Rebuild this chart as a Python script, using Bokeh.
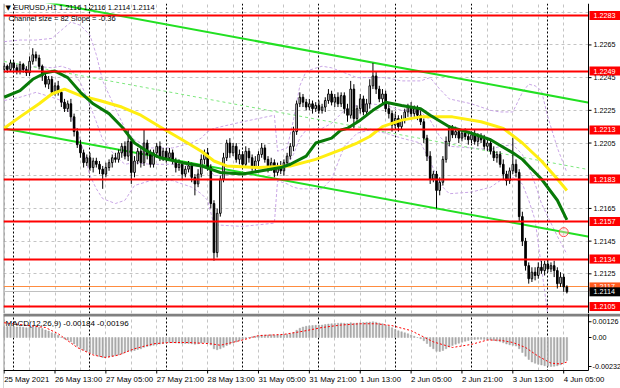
from bokeh.plotting import figure
from bokeh.layouts import column
from bokeh.models import ColumnDataSource, FixedTicker, Range1d, Grid
from bokeh.embed import file_html
from bokeh.resources import INLINE
from bokeh.core.properties import value

# ---------------- data ----------------
symbol_text = "EURUSD,H1  1.2116 1.2116 1.2114 1.2114"
channel_text = "Channel size = 82 Slope = -0.36"
macd_text = "MACD(12,26,9) -0.00184 -0.00196"

first_open = 1.2250
closes = [
    1.2252, 1.2250, 1.2254, 1.2251, 1.2249, 1.2253, 1.2250, 1.2248, 1.2255, 1.2259,
    1.2257, 1.2252, 1.2246, 1.2241, 1.2244, 1.2236, 1.2240, 1.2236, 1.2230, 1.2226,
    1.2229, 1.2221, 1.2212, 1.2204, 1.2199, 1.2193, 1.2196, 1.2190, 1.2194, 1.2192,
    1.2189, 1.2186, 1.2190, 1.2193, 1.2196, 1.2195, 1.2199, 1.2203, 1.2197, 1.2206,
    1.2187, 1.2194, 1.2200, 1.2193, 1.2205, 1.2198, 1.2192, 1.2199, 1.2203, 1.2196,
    1.2200, 1.2196, 1.2199, 1.2194, 1.2190, 1.2192, 1.2186, 1.2189, 1.2191, 1.2184,
    1.2180, 1.2186, 1.2195, 1.2199, 1.2190, 1.2168, 1.2138, 1.2162, 1.2183, 1.2196,
    1.2205, 1.2199, 1.2203, 1.2195, 1.2198, 1.2192, 1.2200, 1.2196, 1.2190, 1.2194,
    1.2198, 1.2202, 1.2195, 1.2190, 1.2193, 1.2187, 1.2191, 1.2188, 1.2193, 1.2197,
    1.2203, 1.2212, 1.2229, 1.2233, 1.2230, 1.2227, 1.2229, 1.2226, 1.2228, 1.2225,
    1.2227, 1.2231, 1.2235, 1.2230, 1.2233, 1.2229, 1.2234, 1.2226, 1.2222, 1.2238,
    1.2220, 1.2226, 1.2232, 1.2224, 1.2229, 1.2240, 1.2246, 1.2238, 1.2232, 1.2235,
    1.2226, 1.2223, 1.2216, 1.2220, 1.2215, 1.2219, 1.2224, 1.2227, 1.2223, 1.2226,
    1.2222, 1.2218, 1.2208, 1.2197, 1.2183, 1.2186, 1.2176, 1.2181, 1.2195, 1.2206,
    1.2214, 1.2210, 1.2212, 1.2208, 1.2211, 1.2209, 1.2207, 1.2210, 1.2206, 1.2209,
    1.2207, 1.2203, 1.2205, 1.2200, 1.2196, 1.2198, 1.2192, 1.2186, 1.2182, 1.2188,
    1.2192, 1.2187, 1.2160, 1.2145, 1.2130, 1.2122, 1.2126, 1.2124, 1.2129, 1.2127,
    1.2131, 1.2128, 1.2130, 1.2127, 1.2119, 1.2123, 1.2117, 1.2114,
]
upper_wick_pips = [
    2, 1, 2, 1, 2, 2, 1, 2, 3, 4,
    2, 2, 1, 3, 2, 2, 2, 3, 2, 2,
    2, 3, 2, 2, 3, 2, 2, 3, 2, 2,
    2, 2, 3, 2, 2, 3, 2, 2, 3, 7,
    2, 3, 2, 2, 8, 2, 3, 2, 2, 3,
    2, 2, 3, 2, 2, 3, 2, 2, 3, 2,
    2, 3, 3, 2, 3, 2, 2, 3, 2, 3,
    2, 3, 2, 2, 3, 2, 3, 2, 2, 3,
    2, 3, 2, 2, 3, 2, 2, 3, 2, 2,
    2, 3, 2, 3, 2, 2, 3, 2, 2, 3,
    2, 2, 3, 2, 2, 3, 2, 2, 3, 5,
    3, 2, 3, 2, 3, 4, 8, 3, 2, 3,
    2, 3, 2, 3, 2, 3, 2, 2, 3, 2,
    2, 3, 2, 2, 3, 2, 2, 3, 2, 3,
    2, 2, 3, 2, 2, 3, 2, 2, 3, 2,
    2, 3, 2, 2, 3, 2, 2, 3, 2, 2,
    16, 3, 2, 3, 2, 2, 3, 3, 3, 4,
    2, 3, 2, 3, 2, 3, 2, 1,
]
lower_wick_pips = [
    2, 2, 1, 2, 2, 2, 2, 2, 2, 2,
    2, 2, 3, 2, 3, 2, 2, 2, 3, 2,
    2, 3, 3, 2, 3, 3, 2, 2, 3, 2,
    3, 9, 2, 2, 3, 2, 2, 3, 2, 3,
    7, 3, 2, 3, 2, 3, 2, 2, 3, 2,
    2, 3, 2, 2, 3, 2, 3, 2, 2, 3,
    7, 2, 2, 3, 2, 3, 5, 3, 2, 2,
    2, 3, 2, 2, 3, 2, 2, 3, 2, 2,
    3, 2, 2, 3, 2, 3, 2, 2, 3, 2,
    2, 3, 2, 2, 3, 2, 2, 3, 2, 2,
    2, 3, 2, 2, 3, 2, 2, 3, 4, 2,
    6, 2, 3, 2, 2, 3, 2, 3, 2, 3,
    2, 3, 4, 2, 3, 2, 2, 3, 2, 2,
    3, 2, 3, 3, 3, 2, 11, 3, 2, 2,
    3, 2, 2, 3, 2, 2, 3, 2, 2, 3,
    2, 2, 3, 2, 2, 3, 2, 3, 3, 2,
    2, 3, 3, 3, 3, 3, 2, 3, 2, 2,
    3, 2, 2, 4, 3, 2, 3, 1,
]

ma_green_idx = [0, 5, 9, 13, 16, 20, 24, 28, 33, 37, 41, 45, 49, 56, 62, 68, 75, 81, 87, 90,
                95, 98, 103, 106, 108, 112, 116, 120, 125, 131, 134, 140, 147, 153, 160, 163,
                166, 169, 174, 177]
ma_green = [1.2233, 1.2237, 1.2244, 1.2248, 1.2249, 1.2245, 1.2236, 1.2229, 1.2223, 1.2215,
            1.2205, 1.2200, 1.2196, 1.2193, 1.2191, 1.2187, 1.2186, 1.2188, 1.2190, 1.2192,
            1.2197, 1.2205, 1.2208, 1.2213, 1.2214, 1.2219, 1.2225, 1.2230, 1.2228, 1.2226,
            1.2222, 1.2215, 1.2211, 1.2207, 1.2199, 1.2195, 1.2189, 1.2183, 1.2170, 1.2158]
ma_yellow_idx = [0, 5, 11, 15, 19, 24, 30, 37, 43, 49, 56, 62, 66, 70, 80, 90, 98, 106, 111, 115,
                 119, 125, 131, 141, 150, 157, 163, 169, 174, 177]
ma_yellow = [1.2214, 1.2221, 1.2229, 1.2235, 1.2238, 1.2234, 1.2231, 1.2227, 1.2222, 1.2215,
             1.2207, 1.2200, 1.2194, 1.2191, 1.2190, 1.2191, 1.2195, 1.2201, 1.2205, 1.2209,
             1.2215, 1.2219, 1.2221, 1.2221, 1.2218, 1.2214, 1.2205, 1.2194, 1.2183, 1.2176]

bb_idx = [0, 5, 10, 15, 18, 21, 24, 27, 29, 31, 35, 38, 41, 46, 53, 59, 62, 64, 66, 75,
          85, 86, 89, 91, 93, 95, 100, 103, 107, 111, 115, 120, 125, 131, 134, 137, 140, 147,
          153, 156, 160, 163, 165, 167, 169, 171, 174, 177]
bb_upper = [1.2267, 1.2268, 1.2268, 1.2269, 1.2274, 1.2279, 1.2277, 1.2271, 1.2259, 1.2243,
            1.2226, 1.2214, 1.2207, 1.2202, 1.2202, 1.2205, 1.2208, 1.2212, 1.2214, 1.2218,
            1.2222, 1.2200, 1.2202, 1.2219, 1.2240, 1.2249, 1.2252, 1.2251, 1.2248, 1.2245,
            1.2245, 1.2245, 1.2243, 1.2243, 1.2245, 1.2238, 1.2232, 1.2229, 1.2225, 1.2224,
            1.2224, 1.2236, 1.2241, 1.2240, 1.2237, 1.2221, 1.2202, 1.2187]
bb_mid = [1.2249, 1.2250, 1.2252, 1.2251, 1.2252, 1.2250, 1.2242, 1.2228, 1.2218, 1.2207,
          1.2197, 1.2192, 1.2193, 1.2192, 1.2192, 1.2191, 1.2191, 1.2191, 1.2185, 1.2186,
          1.2189, 1.2191, 1.2191, 1.2198, 1.2208, 1.2213, 1.2214, 1.2217, 1.2225, 1.2228,
          1.2229, 1.2228, 1.2225, 1.2224, 1.2219, 1.2209, 1.2203, 1.2202, 1.2201, 1.2203,
          1.2204, 1.2198, 1.2190, 1.2180, 1.2168, 1.2160, 1.2148, 1.2137]
bb_lower = [1.2231, 1.2233, 1.2236, 1.2233, 1.2231, 1.2222, 1.2207, 1.2185, 1.2177, 1.2171,
            1.2168, 1.2170, 1.2179, 1.2182, 1.2182, 1.2178, 1.2174, 1.2170, 1.2155, 1.2154,
            1.2156, 1.2182, 1.2180, 1.2178, 1.2177, 1.2177, 1.2177, 1.2183, 1.2203, 1.2211,
            1.2213, 1.2211, 1.2208, 1.2205, 1.2194, 1.2180, 1.2174, 1.2175, 1.2178, 1.2182,
            1.2184, 1.2180, 1.2170, 1.2158, 1.2129, 1.2100, 1.2080, 1.2075]

chan_idx = [0, 184]
chan_lower = [1.22139, 1.21477]
chan_mid = [1.22549, 1.21887]
chan_upper = [1.22959, 1.22297]
marker_idx = [176]
marker_price = [1.21505]

levels = [1.2283, 1.2249, 1.2213, 1.2183, 1.2157, 1.2134, 1.2105]
ask_level = 1.2117
bid_level = 1.2114
price_tick_values = [1.2125, 1.2145, 1.2165, 1.2205, 1.2225, 1.2245, 1.2265]
price_grid_values = [1.2105, 1.2125, 1.2145, 1.2165, 1.2185, 1.2205, 1.2225, 1.2245, 1.2265, 1.2285]

time_tick_idx = [0, 16, 32, 48, 64, 80, 96, 112, 128, 144, 160, 176]
time_tick_labels = ["25 May 2021", "26 May 13:00", "27 May 05:00", "27 May 21:00",
                    "28 May 13:00", "31 May 05:00", "31 May 21:00", "1 Jun 13:00",
                    "2 Jun 05:00", "2 Jun 21:00", "3 Jun 13:00", "4 Jun 05:00"]
day_start_idx = [3, 27, 51, 75, 99, 123, 147, 171]
grid_idx = [0, 8, 16, 24, 32, 40, 48, 56, 64, 72, 80, 88, 96, 104, 112, 120, 128, 136,
            144, 152, 160, 168, 176, 184]

macd = [
    0.00085, 0.00088, 0.00090, 0.00088, 0.00084, 0.00085, 0.00082, 0.00078, 0.00080, 0.00086,
    0.00088, 0.00082, 0.00072, 0.00060, 0.00052, 0.00038, 0.00030, 0.00018, 0.00002, -0.00012,
    -0.00020, -0.00034, -0.00052, -0.00070, -0.00088, -0.00102, -0.00112, -0.00124, -0.00132, -0.00142,
    -0.00152, -0.00160, -0.00158, -0.00155, -0.00150, -0.00146, -0.00140, -0.00132, -0.00120, -0.00108,
    -0.00110, -0.00104, -0.00096, -0.00090, -0.00078, -0.00072, -0.00068, -0.00062, -0.00056, -0.00052,
    -0.00048, -0.00044, -0.00042, -0.00042, -0.00044, -0.00045, -0.00047, -0.00048, -0.00047, -0.00050,
    -0.00054, -0.00050, -0.00044, -0.00040, -0.00044, -0.00060, -0.00090, -0.00098, -0.00090, -0.00078,
    -0.00064, -0.00054, -0.00044, -0.00036, -0.00026, -0.00016, -0.00008, 0.00000, 0.00006, 0.00010,
    0.00014, 0.00018, 0.00020, 0.00020, 0.00022, 0.00020, 0.00020, 0.00022, 0.00024, 0.00026,
    0.00030, 0.00040, 0.00058, 0.00074, 0.00084, 0.00090, 0.00094, 0.00096, 0.00098, 0.00098,
    0.00100, 0.00104, 0.00108, 0.00110, 0.00112, 0.00114, 0.00116, 0.00114, 0.00112, 0.00118,
    0.00114, 0.00116, 0.00118, 0.00120, 0.00122, 0.00124, 0.00126, 0.00122, 0.00116, 0.00110,
    0.00100, 0.00090, 0.00078, 0.00064, 0.00054, 0.00046, 0.00038, 0.00030, 0.00020, 0.00010,
    0.00000, -0.00010, -0.00026, -0.00048, -0.00072, -0.00090, -0.00110, -0.00112, -0.00104, -0.00090,
    -0.00076, -0.00064, -0.00054, -0.00046, -0.00038, -0.00030, -0.00024, -0.00018, -0.00016, -0.00014,
    -0.00014, -0.00016, -0.00018, -0.00020, -0.00024, -0.00028, -0.00034, -0.00042, -0.00052, -0.00058,
    -0.00062, -0.00068, -0.00090, -0.00120, -0.00150, -0.00176, -0.00196, -0.00206, -0.00214, -0.00220,
    -0.00226, -0.00230, -0.00232, -0.00230, -0.00226, -0.00218, -0.00200, -0.00184,
]
signal_idx = [0, 13, 17, 23, 28, 32, 36, 41, 47, 52, 58, 65, 68, 75, 80, 88, 94, 100, 106, 112,
              117, 122, 128, 135, 141, 147, 152, 156, 160, 164, 168, 172, 175, 177]
signal = [0.00118, 0.00080, 0.00030, -0.00080, -0.00140, -0.00160, -0.00140, -0.00090, -0.00050,
          -0.00040, -0.00040, -0.00050, -0.00062, -0.00020, 0.00015, 0.00025, 0.00050, 0.00080,
          0.00100, 0.00110, 0.00110, 0.00095, 0.00055, -0.00035, -0.00080, -0.00055, -0.00020,
          -0.00022, -0.00040, -0.00080, -0.00150, -0.00205, -0.00212, -0.00196]
macd_axis_values = [0.00126, 0.0, -0.00232]
macd_axis_labels = ["0.00126", "0.00", "-0.00232"]

# ---------------- derived candle geometry ----------------
n = len(closes)
idx = list(range(n))
opens = [first_open] + closes[:-1]
body_top = [max(o, c) for o, c in zip(opens, closes)]
body_bot = [min(o, c) for o, c in zip(opens, closes)]
highs = [t + u / 10000 for t, u in zip(body_top, upper_wick_pips)]
lows = [b - l / 10000 for b, l in zip(body_bot, lower_wick_pips)]
fills = ["white" if c >= o else "black" for o, c in zip(opens, closes)]
candles = ColumnDataSource(dict(x=idx, top=body_top, bottom=body_bot, high=highs, low=lows, fill=fills))

# ---------------- geometry / styles ----------------
FONT = value("Liberation Sans")
FS_AX = value("7.2px")
FS_HEAD = value("7.5px")
FS_TXT = value("8px")
FS_TIME = value("7.8px")
X_START, X_AX = -0.2, 183.8            # plotting area: 585 px wide
PPB = 585.0 / (X_AX - X_START)         # pixels per bar
X_FULL = X_START + 617.0 / PPB         # frame also covers the price-scale strip
P_BOT, P_TOP = 1.210074, 1.229034      # 310 px tall
M_PPU = 12500.0                        # MACD pixels per unit
M_TOP = 0.00192
M_BOT = M_TOP - 75 / M_PPU
M_AXIS = -0.00264
GRID_COLOR = "#c4c4c4"
BAND = "#c9a6e6"

# ---------------- price panel ----------------
p = figure(width=620, height=313, x_range=Range1d(X_START, X_FULL), y_range=Range1d(P_BOT, P_TOP),
           output_backend="svg", toolbar_location=None, x_axis_location=None, y_axis_location=None,
           min_border_left=3, min_border_right=0, min_border_top=3, min_border_bottom=0,
           background_fill_color="white", border_fill_color="white", outline_line_color=None)
p.grid.grid_line_color = None
p.add_layout(Grid(dimension=0, ticker=FixedTicker(ticks=grid_idx), grid_line_color=GRID_COLOR,
                  grid_line_dash="3 3", level="underlay"))
p.add_layout(Grid(dimension=1, ticker=FixedTicker(ticks=price_grid_values), grid_line_color=GRID_COLOR,
                  grid_line_dash="3 3", level="underlay"))

p.vspan(x=day_start_idx, line_color="black", line_dash="2 2", line_width=1)
p.vspan(x=[X_START], line_color="#909090", line_width=2)

p.line(bb_idx, bb_upper, line_color=BAND, line_dash="3 2", line_width=1)
p.line(bb_idx, bb_mid, line_color=BAND, line_dash="3 2", line_width=1)
p.line(bb_idx, bb_lower, line_color=BAND, line_dash="3 2", line_width=1)

p.line(chan_idx, chan_upper, line_color="#22e022", line_width=2)
p.line(chan_idx, chan_lower, line_color="#22e022", line_width=2)
p.line(chan_idx, chan_mid, line_color="#7ee87e", line_width=1, line_dash="3 3")

p.hspan(y=[bid_level], line_color="#c0c0c0", line_width=1)
p.hspan(y=[ask_level], line_color="#ff8c40", line_width=1)

p.segment(x0="x", y0="high", x1="x", y1="low", source=candles, line_color="black", line_width=1)
p.vbar(x="x", top="top", bottom="bottom", width=0.5, source=candles, fill_color="fill",
       line_color="black", line_width=1)

p.line(ma_yellow_idx, ma_yellow, line_color="#ffee10", line_width=3)
p.line(ma_green_idx, ma_green, line_color="#087a08", line_width=3)

p.hspan(y=levels, line_color="#ff0000", line_width=2)

p.scatter(marker_idx, marker_price, size=9, fill_color="#ffd0d0", fill_alpha=0.4,
          line_color="#ff5050", line_width=1)

# price scale strip (right)
p.quad(left=[X_AX], right=[X_FULL], bottom=[P_BOT], top=[P_TOP], fill_color="white", line_color=None)
p.segment(x0=[X_AX], y0=[P_BOT], x1=[X_AX], y1=[P_TOP], line_color="black", line_width=1)
p.segment(x0=[X_AX] * len(price_tick_values), y0=price_tick_values,
          x1=[X_AX + 3 / PPB] * len(price_tick_values), y1=price_tick_values, line_color="black")
p.text(x=[X_AX] * len(price_tick_values), y=price_tick_values,
       text=[f"{v:.4f}" for v in price_tick_values], x_offset=5, text_font=FONT, text_font_size=FS_AX,
       text_color="black", text_baseline="middle", text_align="left")

box_x = X_AX + 16.5 / PPB
p.rect(x=[box_x] * len(levels), y=levels, width=31, height=9, width_units="screen",
       height_units="screen", fill_color="#ff0000", line_color=None)
p.text(x=[X_AX] * len(levels), y=levels, text=[f"{v:.4f}" for v in levels], x_offset=5,
       text_font=FONT, text_font_size=FS_AX, text_color="white", text_baseline="middle", text_align="left")
p.rect(x=[box_x], y=[ask_level], width=31, height=9, width_units="screen", height_units="screen",
       fill_color="#ff5a1e", line_color=None)
p.text(x=[X_AX], y=[ask_level], text=[f"{ask_level:.4f}"], x_offset=5, text_font=FONT,
       text_font_size=FS_AX, text_color="white", text_baseline="middle", text_align="left")
p.rect(x=[box_x], y=[bid_level], width=31, height=9, width_units="screen", height_units="screen",
       fill_color="black", line_color=None)
p.text(x=[X_AX], y=[bid_level], text=[f"{bid_level:.4f}"], x_offset=5, text_font=FONT,
       text_font_size=FS_AX, text_color="white", text_baseline="middle", text_align="left")

# header texts
p.text(x=[X_START], y=[1.22876], text=["\u25bc"], x_offset=2, text_font=value("DejaVu Sans"),
       text_font_size=value("7px"), text_color="black", text_baseline="middle")
p.text(x=[X_START], y=[1.22876], text=[symbol_text], x_offset=10, text_font=FONT,
       text_font_size=FS_HEAD, text_color="black", text_baseline="middle")
p.text(x=[X_START], y=[1.22812], text=[channel_text], x_offset=5, text_font=FONT,
       text_font_size=FS_HEAD, text_color="black", text_baseline="middle")

# ---------------- MACD panel ----------------
m = figure(width=620, height=75, x_range=p.x_range, y_range=Range1d(M_BOT, M_TOP),
           output_backend="svg", toolbar_location=None, x_axis_location=None, y_axis_location=None,
           min_border_left=3, min_border_right=0, min_border_top=0, min_border_bottom=0,
           background_fill_color="white", border_fill_color="white", outline_line_color=None)
m.grid.grid_line_color = None
m.add_layout(Grid(dimension=0, ticker=FixedTicker(ticks=grid_idx), grid_line_color=GRID_COLOR,
                  grid_line_dash="3 3", level="underlay"))
m.vspan(x=day_start_idx, line_color="black", line_dash="2 2", line_width=1)
m.vspan(x=[X_START], line_color="#909090", line_width=2)
m.vbar(x=idx, top=macd, bottom=0, width=0.45, fill_color="#a8a8a8", line_color="#a8a8a8", line_width=0.5)
m.line(signal_idx, signal, line_color="#ff0000", line_dash="2 2", line_width=1)
m.text(x=[X_START], y=[0.00112], text=[macd_text], x_offset=2, text_font=FONT,
       text_font_size=FS_TXT, text_color="black", text_baseline="middle")

# strips: right scale and bottom time scale
m.quad(left=[X_AX], right=[X_FULL], bottom=[M_BOT], top=[M_TOP], fill_color="white", line_color=None)
m.quad(left=[X_START], right=[X_FULL], bottom=[M_BOT], top=[M_AXIS], fill_color="white", line_color=None)
m.quad(left=[X_START], right=[X_FULL], bottom=[M_TOP - 3 / M_PPU], top=[M_TOP],
       fill_color="#808080", line_color=None)
m.segment(x0=[X_AX], y0=[M_AXIS], x1=[X_AX], y1=[M_TOP], line_color="black", line_width=1)
m.segment(x0=[X_START], y0=[M_AXIS], x1=[X_AX], y1=[M_AXIS], line_color="black", line_width=1)
m.segment(x0=[X_AX] * 3, y0=macd_axis_values, x1=[X_AX + 3 / PPB] * 3, y1=macd_axis_values,
          line_color="black")
m.text(x=[X_AX] * 3, y=macd_axis_values, text=macd_axis_labels, x_offset=4, text_font=FONT,
       text_font_size=FS_AX, text_color="black", text_baseline="middle", text_align="left")
m.segment(x0=time_tick_idx, y0=[M_AXIS] * len(time_tick_idx), x1=time_tick_idx,
          y1=[M_AXIS - 3 / M_PPU] * len(time_tick_idx), line_color="black")
m.text(x=time_tick_idx, y=[M_AXIS - 8.5 / M_PPU] * len(time_tick_idx), text=time_tick_labels,
       text_font=FONT, text_font_size=FS_TIME, text_color="black", text_baseline="middle",
       text_align="left")

layout = column(p, m, spacing=0)
open("out.html", "w").write(file_html(layout, INLINE))
